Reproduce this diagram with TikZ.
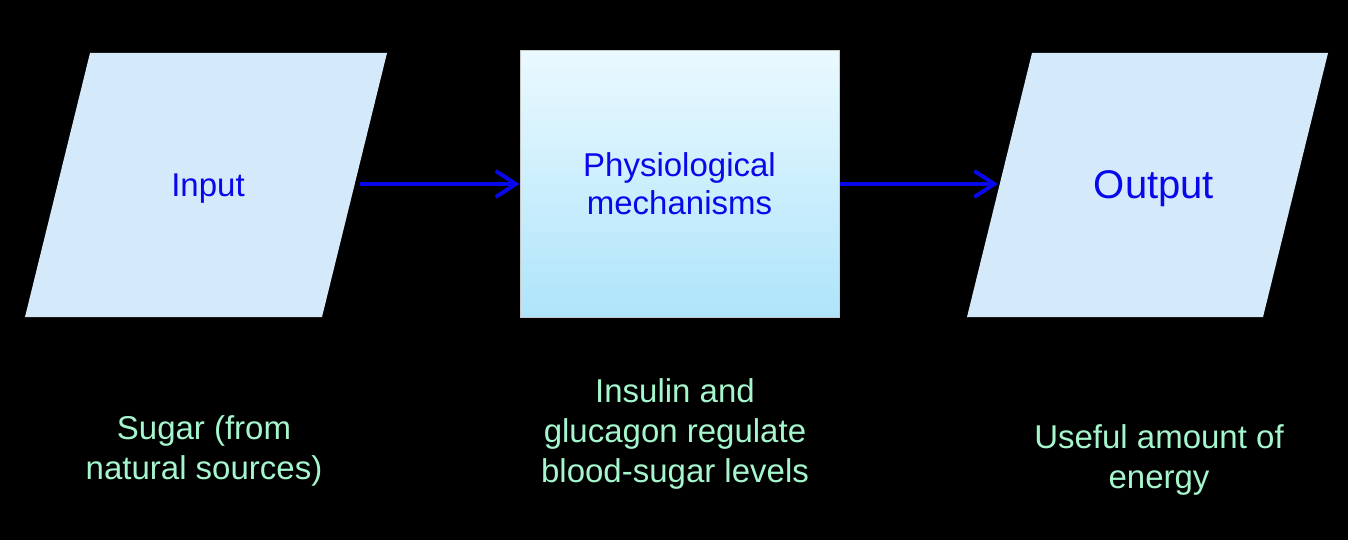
\documentclass[tikz,border=0pt]{standalone}
\usepackage{fontspec}
\setmainfont{Liberation Sans}
\usepackage{xcolor}
\usetikzlibrary{arrows.meta}
\definecolor{paraFill}{RGB}{212,234,251}
\definecolor{boxTop}{RGB}{234,249,254}
\definecolor{boxBot}{RGB}{174,228,250}
\definecolor{boxLine}{RGB}{200,200,200}
\definecolor{arrBlue}{RGB}{8,8,235}
\definecolor{noteGreen}{RGB}{165,245,205}

\begin{document}
\begin{tikzpicture}[x=1pt,y=-1pt,
  para/.style={fill=paraFill},
  mechbox/.style={draw=boxLine,line width=1pt,top color=boxTop,bottom color=boxBot,
    minimum width=319pt,minimum height=266pt,inner sep=0pt,align=center,
    text=arrBlue,font=\fontsize{33}{38}\selectfont},
  lbl/.style={text=arrBlue,font=\fontsize{33}{38}\selectfont},
  note/.style={text=noteGreen,align=center,font=\fontsize{33}{40}\selectfont},
  arr/.style={arrBlue,line width=4pt,-{Straight Barb[length=20pt,width=26pt,line width=4pt]}}]
\fill[black] (0,0) rectangle (1348,540);
\useasboundingbox (0,0) rectangle (1348,540);
\fill[para] (90,53)--(387,53)--(322,317)--(25,317)--cycle;
\fill[para] (1032,53)--(1328,53)--(1263,317)--(967,317)--cycle;
\node[lbl] (in) at (208,189) {Input};
\node[lbl,font=\fontsize{40}{46}\selectfont] (out) at (1154,189) {Output};
\node[mechbox] (mech) at (679.5,184) {Physiological\\mechanisms};
\coordinate (inR) at (360,184);
\coordinate (outL) at (998,184);
\draw[arr] (inR)--(mech.west);
\draw[arr] (mech.east)--(outL);
\node[note] (inNote) at (204,451) {Sugar (from\\natural sources)};
\node[note] (mechNote) at (675,434) {Insulin and\\glucagon regulate\\blood-sugar levels};
\node[note] (outNote) at (1159,460) {Useful amount of\\energy};
\end{tikzpicture}
\end{document}
